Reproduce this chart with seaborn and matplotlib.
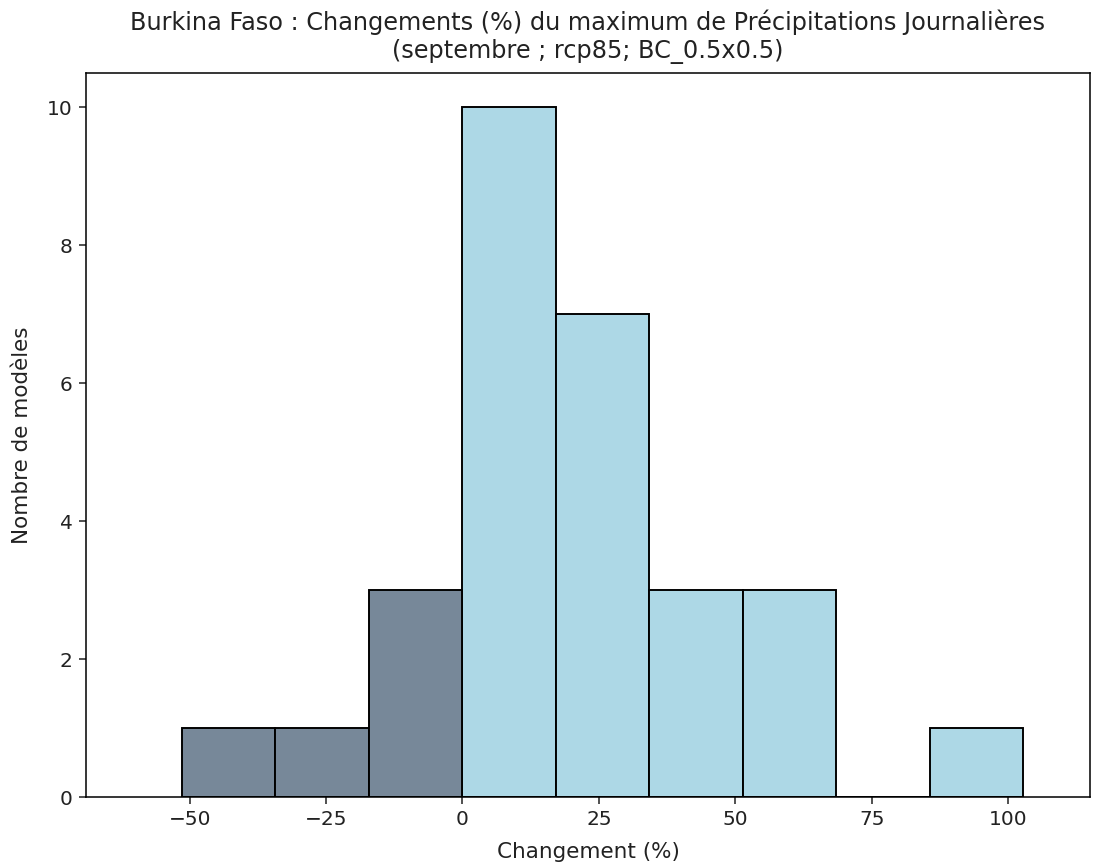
import numpy as np
import pandas as pd
import seaborn as sns
import matplotlib.pyplot as plt

# bornes des classes et nombre de modeles par classe
bin_edges = [-51.4, -34.3, -17.1, 0.0, 17.1, 34.2, 51.4, 68.5, 85.6, 102.7]
bin_centers = [-42.8, -25.7, -8.6, 8.6, 25.7, 42.8, 59.9, 77.0, 94.1]
nb_modeles = [1, 1, 3, 10, 7, 3, 3, 0, 1]
signe = ["neg", "neg", "neg", "pos", "pos", "pos", "pos", "pos", "pos"]

couleurs = {"neg": "lightslategray", "pos": "lightblue"}

df = pd.DataFrame({"changement": bin_centers, "n": nb_modeles, "signe": signe})

fig = plt.figure(figsize=(1107 / 138.4, 865 / 138.4), dpi=138.4)
ax = fig.add_axes([0.0777, 0.0786, 0.9069, 0.837])

sns.histplot(data=df, x="changement", weights="n", hue="signe", bins=bin_edges,
             palette=couleurs, alpha=1, edgecolor="black", linewidth=1,
             legend=False, ax=ax)

ax.set_xlim(-69, 115)
ax.set_ylim(0, 10.5)
ax.tick_params(labelsize=10.5, colors="#222222")
ax.set_xlabel("Changement (%)", fontsize=11.2, labelpad=6.5, color="#222222")
ax.set_ylabel("Nombre de modèles", fontsize=11.2, labelpad=7.5, color="#222222")
ax.set_title("Burkina Faso : Changements (%) du maximum de Précipitations Journalières\n"
             "(septembre ; rcp85; BC_0.5x0.5)", fontsize=12.5, pad=8, color="#222222")

fig.savefig("out.png", dpi=138.4)
